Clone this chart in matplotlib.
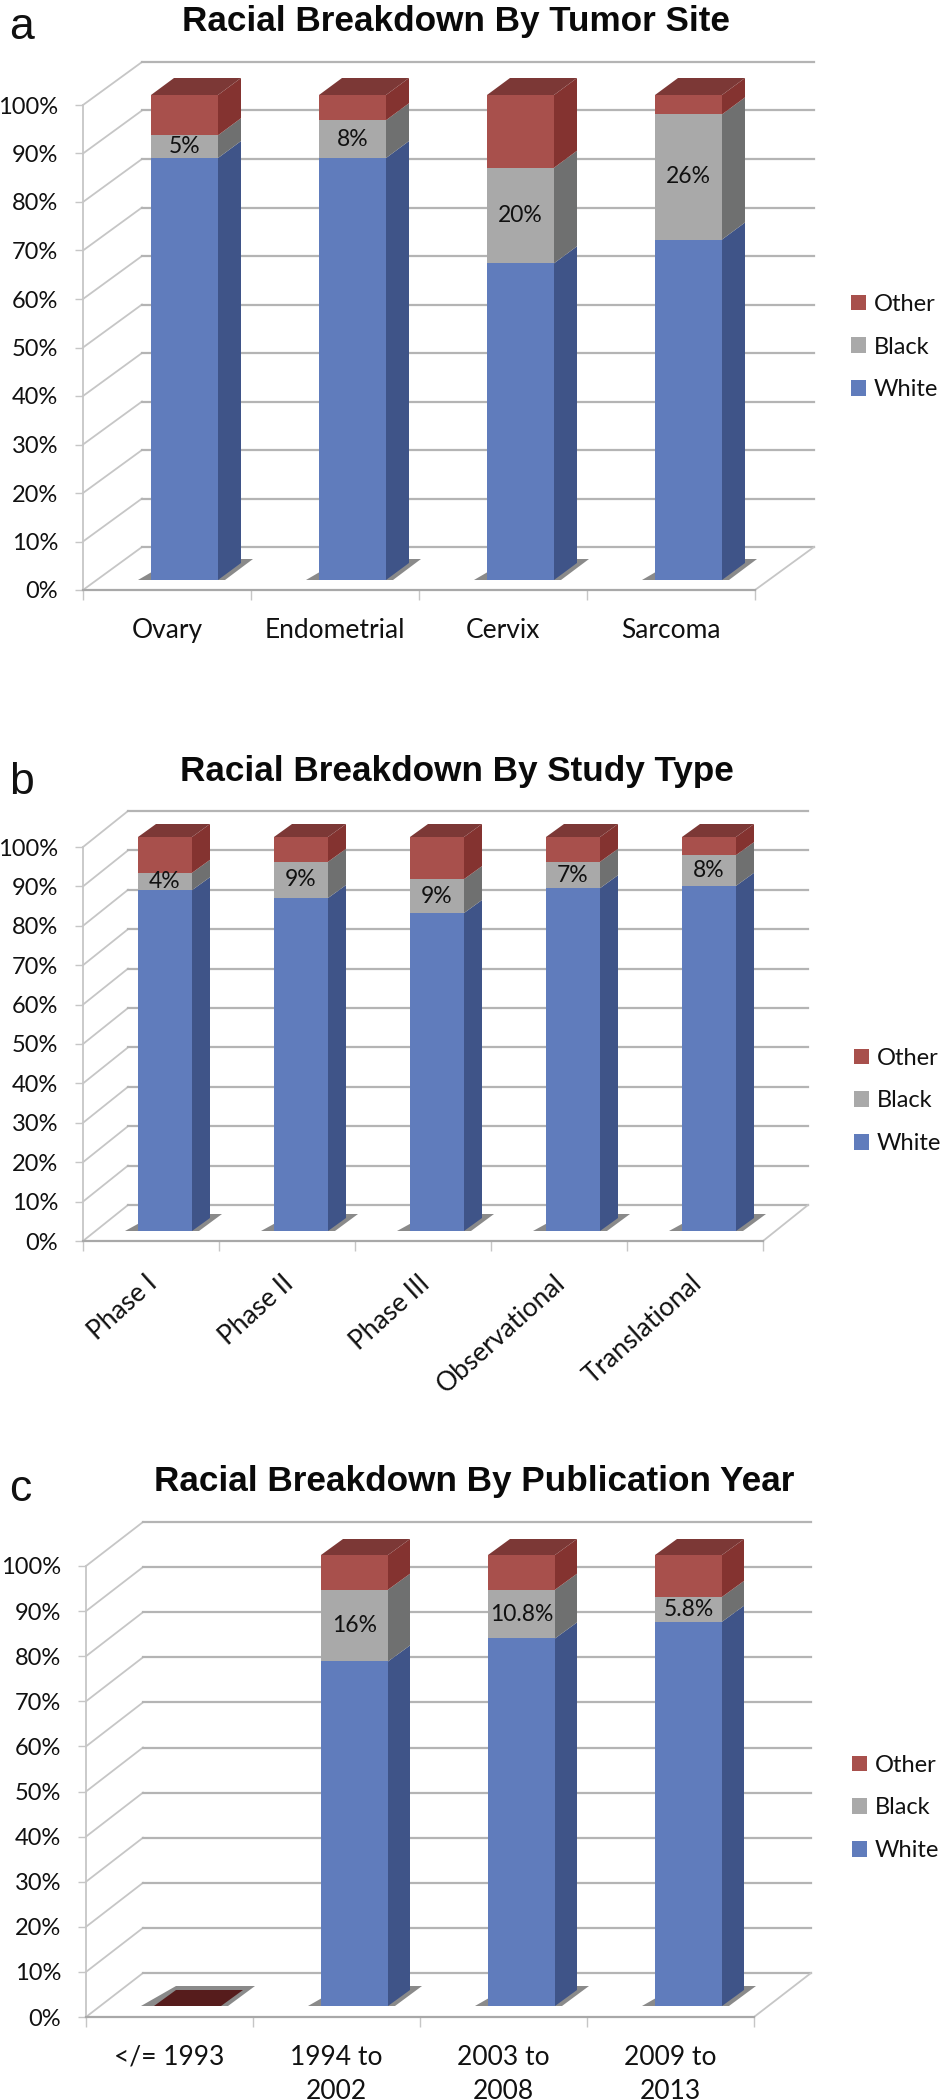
import matplotlib
matplotlib.use('Agg')
import matplotlib.pyplot as plt
from matplotlib.patches import Patch
from matplotlib.transforms import ScaledTranslation

plt.rcParams['font.family'] = ['Lato', 'DejaVu Sans']

# Panel a
sites = ['Ovary', 'Endometrial', 'Cervix', 'Sarcoma']
white_a = [87.0, 87.0, 65.3, 70.2]
black_a = [4.7, 7.8, 19.7, 25.8]
other_a = [8.3, 5.2, 15.0, 4.0]
labels_a = ['5%', '8%', '20%', '26%']

# Panel b
studies = ['Phase I', 'Phase II', 'Phase III', 'Observational', 'Translational']
white_b = [86.5, 84.5, 80.7, 87.0, 87.6]
black_b = [4.4, 9.2, 8.6, 6.7, 7.8]
other_b = [9.1, 6.3, 10.7, 6.3, 4.6]
labels_b = ['4%', '9%', '9%', '7%', '8%']

# Panel c
years = ['</= 1993', '1994 to\n2002', '2003 to\n2008', '2009 to\n2013']
white_c = [0, 76.4, 81.5, 85.2]
black_c = [0, 15.9, 10.8, 5.5]
other_c = [0, 7.7, 7.7, 9.3]
labels_c = ['', '16%', '10.8%', '5.8%']

W, H = 940, 2100
FRONT = ['#607cbc', '#a9a9a9', '#a8504c']
SIDE = ['#3f5488', '#6f7070', '#843330']
TOP_COLOR = '#7c3836'
FLAT_COLOR = '#561c1c'
SHADOW = '#8a8a8a'
GRID = '#b4b4b4'
WALL = '#c6c6c6'
TITLE_SIZE = 25.3


def draw_panel(letter, title, cats, white, black, other, labels, geo):
    x0, x1, y0, y100 = geo['x0'], geo['x1'], geo['y0'], geo['y100']
    n = len(cats)
    ax = fig.add_axes([x0 / W, 1 - y0 / H, (x1 - x0) / W, (y0 - y100) / H])
    ax.set_xlim(0, n)
    ax.set_ylim(0, 100)
    ax.patch.set_alpha(0)

    # pixel -> data
    px = n / (x1 - x0)
    py = 100 / (y0 - y100)
    wdx, wdy = geo['wall'][0] * px, geo['wall'][1] * py
    bdx, bdy = geo['depth'][0] * px, geo['depth'][1] * py
    off = geo['off'] * px
    width = geo['width'] * px
    base = geo['base'] * py

    # walls and floor
    for v in range(0, 101, 10):
        ax.plot([0, wdx], [v, v + wdy], color=WALL, lw=1.3, clip_on=False, zorder=1)
        ax.plot([wdx, n + wdx], [v + wdy, v + wdy], color=GRID, lw=1.6, clip_on=False, zorder=1)
    ax.plot([n, n + wdx], [0, wdy], color=WALL, lw=1.3, clip_on=False, zorder=1)

    # stacked bars
    for i in range(n):
        left = i + off
        bottom = base
        # floor shadow
        sx = [left - 13 * px, left + width + 7 * px, left + width + bdx + 12 * px, left + bdx]
        sy = [base, base, base + bdy + 4 * py, base + bdy + 4 * py]
        ax.fill(sx, sy, color=SHADOW, lw=0, clip_on=False, zorder=2)
        for h, fc, sc in zip([white[i], black[i], other[i]], FRONT, SIDE):
            if h <= 0:
                continue
            ax.bar(left, h, width, bottom=bottom, align='edge', color=fc, lw=0, clip_on=False, zorder=3)
            r = left + width
            ax.fill([r, r + bdx, r + bdx, r],
                    [bottom, bottom + bdy, bottom + h + bdy, bottom + h],
                    color=sc, lw=0, clip_on=False, zorder=3)
            bottom += h
        top = bottom
        tc = TOP_COLOR if top > base else FLAT_COLOR
        ax.fill([left, left + width, left + width + bdx, left + bdx],
                [top, top, top + bdy, top + bdy], color=tc, lw=0, clip_on=False, zorder=3)
        if labels[i]:
            ax.text(left + width / 2, base + white[i] + black[i] / 2, labels[i],
                    ha='center', va='center', fontsize=16.5, color='#111111', zorder=4)

    # axes
    for s in ['top', 'right']:
        ax.spines[s].set_visible(False)
    ax.spines['left'].set_color(WALL)
    ax.spines['left'].set_linewidth(1.3)
    ax.spines['bottom'].set_color('#a8a8a8')
    ax.spines['bottom'].set_linewidth(1.6)
    ax.set_yticks(range(0, 101, 10))
    ax.set_yticklabels([f'{v}%' for v in range(0, 101, 10)])
    ax.tick_params(axis='y', length=5.8, width=1, color=WALL, labelsize=17, pad=12, labelcolor='#111111')
    ax.set_xticks(range(n + 1))
    ax.set_xticklabels([])
    ax.tick_params(axis='x', which='major', length=7, width=1, color=WALL)
    ax.set_xticks([i + 0.5 for i in range(n)], minor=True)
    ax.tick_params(axis='x', which='minor', length=0, labelsize=19, pad=geo['pad'], labelcolor='#111111')
    if geo.get('rot'):
        ax.set_xticklabels(cats, minor=True, rotation=geo['rot'], ha='right', va='center',
                           rotation_mode='anchor')
        shift = ScaledTranslation(3 / 100, 0, fig.dpi_scale_trans)
        for t in ax.xaxis.get_minorticklabels():
            t.set_transform(t.get_transform() + shift)
    else:
        ax.set_xticklabels(cats, minor=True, linespacing=1.45)

    # title and panel letter
    fig.text(geo['title_x'] / W, 1 - geo['title_y'] / H, title, ha='center', va='center',
             fontsize=TITLE_SIZE, fontweight='bold', family='Liberation Sans', color='#0a0a0a')
    fig.text(9 / W, 1 - geo['letter_y'] / H, letter, ha='left', va='baseline',
             fontsize=32, family='Liberation Sans', color='#111111')

    # legend
    handles = [Patch(color=FRONT[2], lw=0), Patch(color=FRONT[1], lw=0), Patch(color=FRONT[0], lw=0)]
    fig.legend(handles, ['Other', 'Black', 'White'], loc='center left',
               bbox_to_anchor=(geo['leg_x'] / W, 1 - geo['leg_y'] / H), frameon=False, fontsize=17,
               handlelength=0.63, handleheight=0.63, handletextpad=0.32, labelspacing=0.92,
               borderpad=0, borderaxespad=0, labelcolor='#111111')


fig = plt.figure(figsize=(W / 100, H / 100), dpi=100)

draw_panel('a', 'Racial Breakdown By Tumor Site', sites, white_a, black_a, other_a, labels_a,
           dict(x0=83, x1=755, y0=590, y100=105, wall=(59, 43), depth=(23, 17), off=68, width=67,
                base=10, pad=20, title_x=456, title_y=21, letter_y=39,
                leg_x=851, leg_y=347))
draw_panel('b', 'Racial Breakdown By Study Type', studies, white_b, black_b, other_b, labels_b,
           dict(x0=83, x1=763, y0=1241, y100=847, wall=(45, 36), depth=(18, 13), off=55, width=54,
                base=10, pad=28, rot=42, title_x=457, title_y=772, letter_y=794,
                leg_x=854, leg_y=1101))
draw_panel('c', 'Racial Breakdown By Publication Year', years, white_c, black_c, other_c, labels_c,
           dict(x0=86, x1=754, y0=2017, y100=1566, wall=(57, 44), depth=(22, 16), off=68, width=67,
                base=11, pad=20, title_x=474, title_y=1482, letter_y=1501,
                leg_x=852, leg_y=1808))

fig.savefig('out.png', dpi=100, facecolor='white')
